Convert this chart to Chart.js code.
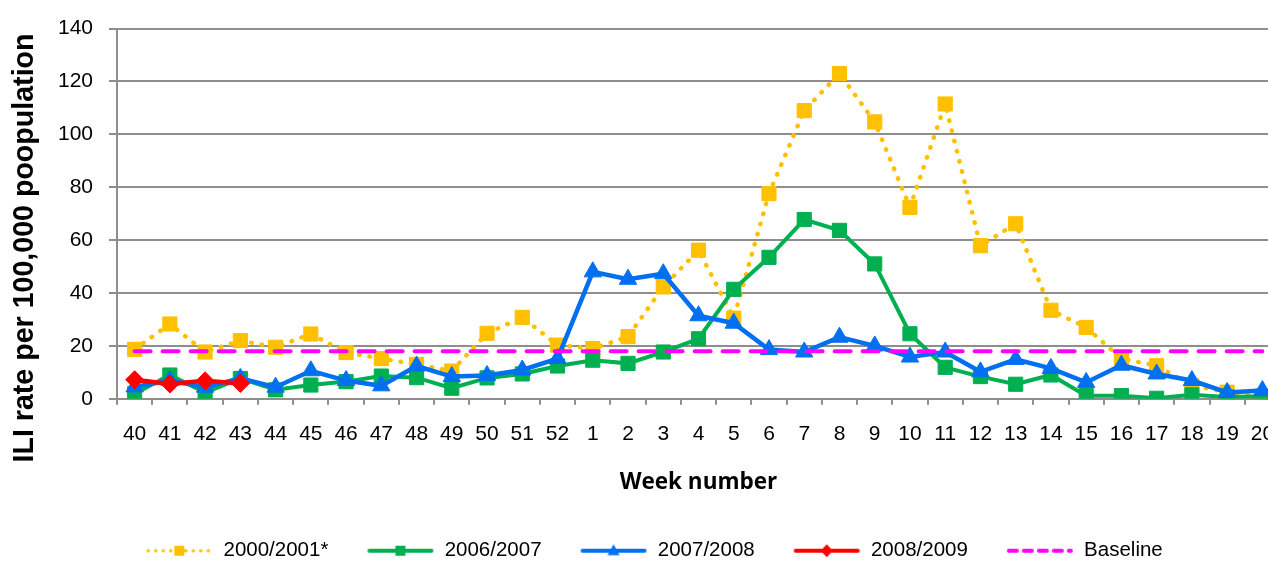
<!DOCTYPE html>
<html>
<head>
<meta charset="utf-8">
<script src="https://cdn.jsdelivr.net/npm/chart.js@4.4.1/dist/chart.umd.min.js"></script>
<style>
  body { margin: 0; overflow: hidden; background: #fff; }
</style>
</head>
<body>
<canvas id="ili" width="1298" height="571"></canvas>
<script>
// week numbers, season runs from week 40 to week 20
const weeks = ['40','41','42','43','44','45','46','47','48','49','50','51','52',
  '1','2','3','4','5','6','7','8','9','10','11','12','13','14','15','16','17','18','19','20']

const season0001 = [18.7, 28.3, 17.7, 22.0, 19.5, 24.5, 17.5, 15.2, 13.0, 10.5, 24.8, 30.8, 20.3,
  19.0, 23.5, 42.3, 56.2, 30.5, 77.6, 109.0, 123.0, 104.7, 72.4, 111.5, 57.9, 66.2, 33.5, 27.0, 15.2, 12.5, 5.0, 2.5, 0.5]
const season0607 = [1.9, 9.0, 2.4, 7.7, 3.4, 5.2, 6.5, 8.6, 8.0, 4.0, 7.9, 9.4, 12.4,
  14.6, 13.4, 17.7, 22.7, 41.4, 53.5, 67.8, 63.7, 51.0, 24.6, 11.9, 8.4, 5.5, 9.0, 1.2, 1.2, 0.2, 1.5, 0.7, 1.0]
const season0708 = [4.5, 6.9, 4.4, 7.7, 4.4, 10.6, 6.9, 4.9, 12.4, 8.4, 8.8, 10.9, 15.2,
  48.0, 45.2, 47.3, 31.4, 28.6, 18.6, 17.7, 23.3, 20.0, 15.8, 17.7, 10.2, 14.9, 11.5, 6.2, 12.7, 9.4, 6.9, 2.4, 3.1]
const season0809 = [7.2, 5.6, 6.8, 5.8]
const baseline = [18, 18, 18, 18, 18, 18, 18, 18, 18, 18, 18, 18, 18,
  18, 18, 18, 18, 18, 18, 18, 18, 18, 18, 18, 18, 18, 18, 18, 18, 18, 18, 18, 18]

const yTicks = [0, 20, 40, 60, 80, 100, 120, 140]
const yTitle = 'ILI rate per 100,000 poopulation'

const yellow = '#FFC000'
const green = '#00B050'
const blue = '#0070F0'
const red = '#FF0000'
const magenta = '#FF00FF'
const axisGrey = '#8E8E8E'
const arial = '"Liberation Sans", Arial, sans-serif'

// small picture for the legend: a piece of line with the marker on it
// (blank strip on the left gives the gap to the previous item)
function legendIcon(color, dash, lineW, marker) {
  const c = document.createElement('canvas')
  c.width = 96
  c.height = 20
  const g = c.getContext('2d')
  g.strokeStyle = color
  g.fillStyle = color
  g.lineWidth = lineW
  g.lineCap = 'round'
  g.setLineDash(dash)
  g.beginPath()
  g.moveTo(31, 10)
  g.lineTo(93, 10)
  g.stroke()
  g.setLineDash([])
  g.beginPath()
  if (marker === 'rect') {
    g.rect(57, 5, 10, 10)
  } else if (marker === 'triangle') {
    g.moveTo(62, 3.5); g.lineTo(68, 14.5); g.lineTo(56, 14.5); g.closePath()
  } else if (marker === 'diamond') {
    g.moveTo(62, 3.5); g.lineTo(68, 10); g.lineTo(62, 16.5); g.lineTo(56, 10); g.closePath()
  }
  if (marker) g.fill()
  return c
}

const icons = [
  legendIcon(yellow, [0, 7.5], 3.5, 'rect'),
  legendIcon(green, [], 4, 'rect'),
  legendIcon(blue, [], 4, 'triangle'),
  legendIcon(red, [], 4, 'diamond'),
  legendIcon(magenta, [8, 7], 4, null)
]

// y title sits lower than the axis centre in the original, so it is drawn by hand
const yTitlePlugin = {
  id: 'yTitle',
  afterDraw(chart) {
    const ctx = chart.ctx
    ctx.save()
    ctx.translate(25, 248)
    ctx.rotate(-Math.PI / 2)
    ctx.font = 'bold 28.6px ' + arial
    ctx.fillStyle = '#000'
    ctx.textAlign = 'center'
    ctx.textBaseline = 'middle'
    ctx.fillText(yTitle, 0, 0)
    ctx.restore()
  }
}

const ctx = document.getElementById('ili')
new Chart(ctx, {
  type: 'line',
  data: {
    labels: weeks,
    datasets: [
      {
        label: '2000/2001*', data: season0001, order: 4,
        borderColor: yellow, backgroundColor: yellow, borderWidth: 4.5,
        borderDash: [0.5, 10], borderCapStyle: 'round',
        pointStyle: 'rect', pointRadius: 10, pointBorderWidth: 1
      },
      {
        label: '2006/2007', data: season0607, order: 3,
        borderColor: green, backgroundColor: green, borderWidth: 4,
        pointStyle: 'rect', pointRadius: 10, pointBorderWidth: 1
      },
      {
        label: '2007/2008', data: season0708, order: 2,
        borderColor: blue, backgroundColor: blue, borderWidth: 4.5,
        pointStyle: 'triangle', pointRadius: 10, pointBorderWidth: 1
      },
      {
        label: '2008/2009', data: season0809, order: 1,
        borderColor: red, backgroundColor: red, borderWidth: 4.5,
        pointStyle: 'rectRot', pointRadius: 9, pointBorderWidth: 1
      },
      {
        label: 'Baseline', data: baseline, order: 0,
        borderColor: magenta, backgroundColor: magenta, borderWidth: 4,
        borderDash: [16, 12], borderCapStyle: 'round',
        pointRadius: 0
      }
    ]
  },
  options: {
    responsive: false,
    animation: false,
    events: [],
    layout: { autoPadding: false, padding: { left: 0, right: 18, top: 25, bottom: 0 } },
    plugins: {
      tooltip: { enabled: false },
      legend: {
        position: 'bottom',
        labels: {
          usePointStyle: true,
          pointStyleWidth: 96,
          padding: 10,
          color: '#000',
          font: { family: arial, size: 20.5 },
          generateLabels: chart => chart.data.datasets.map((ds, i) => ({
            text: ds.label,
            pointStyle: icons[i],
            datasetIndex: i,
            hidden: false,
            lineWidth: 0,
            fillStyle: 'transparent',
            strokeStyle: 'transparent'
          }))
        }
      }
    },
    scales: {
      x: {
        offset: true,
        grid: { drawOnChartArea: false, offset: true, tickLength: 6, color: axisGrey, lineWidth: 2 },
        border: { color: axisGrey, width: 2 },
        ticks: {
          autoSkip: false, maxRotation: 0, padding: 17, color: '#000',
          font: { family: arial, size: 21 }
        },
        title: {
          display: true, text: 'Week number', color: '#000',
          font: { family: '"Open Sans", sans-serif', size: 22.5, weight: 'bold' },
          padding: { top: 5, bottom: 34.5 }
        }
      },
      y: {
        min: 0, max: 140,
        afterBuildTicks: axis => { axis.ticks = yTicks.map(v => ({ value: v })) },
        afterFit: axis => { axis.width = 117 },
        grid: { color: axisGrey, lineWidth: 2, tickLength: 8 },
        border: { color: axisGrey, width: 2 },
        ticks: {
          padding: 16, color: '#000',
          font: { family: arial, size: 21 }
        }
      }
    }
  },
  plugins: [yTitlePlugin]
})
</script>
</body>
</html>
